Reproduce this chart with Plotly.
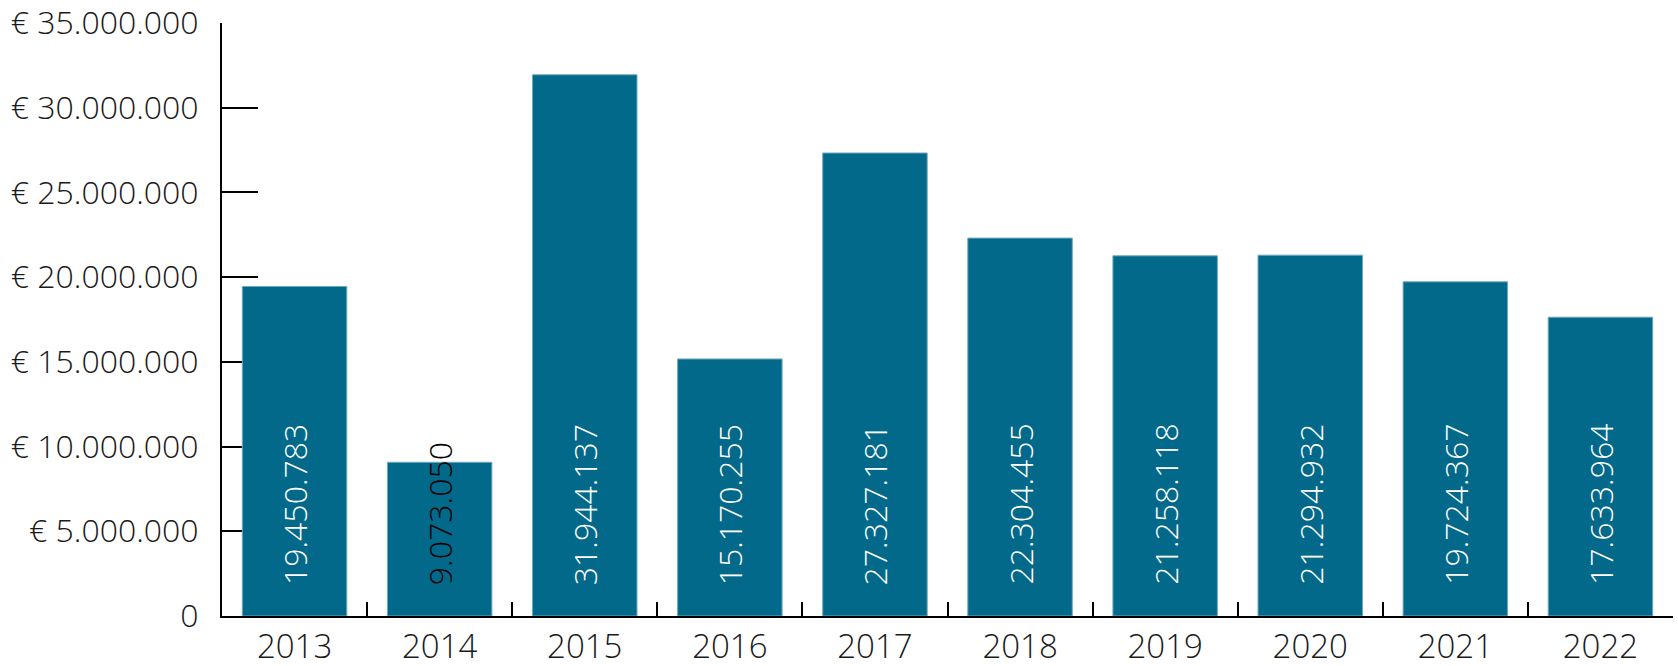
import plotly.graph_objs as go

years = ['2013', '2014', '2015', '2016', '2017', '2018', '2019', '2020', '2021', '2022']
amounts = [19450783, 9073050, 31944137, 15170255, 27327181,
           22304455, 21258118, 21294932, 19724367, 17633964]
amount_labels = ['19.450.783', '9.073.050', '31.944.137', '15.170.255', '27.327.181',
                 '22.304.455', '21.258.118', '21.294.932', '19.724.367', '17.633.964']
label_colors = ['white', 'black', 'white', 'white', 'white',
                'white', 'white', 'white', 'white', 'white']
y_tickvals = [0, 5000000, 10000000, 15000000, 20000000, 25000000, 30000000, 35000000]
y_ticktext = ['0', '€ 5.000.000', '€ 10.000.000', '€ 15.000.000', '€ 20.000.000',
              '€ 25.000.000', '€ 30.000.000', '€ 35.000.000']

FONT = 'Open Sans'

fig = go.Figure()
fig.add_trace(
    go.Bar(
        x=years,
        y=amounts,
        marker=dict(color='#03698A', line=dict(color='#6fa9bd', width=1)),
        hoverinfo='skip',
    )
)

# value labels sit near the base of each bar, rotated
# (category index used for x, a year string would be read as a number)
for i, (label, colour) in enumerate(zip(amount_labels, label_colors)):
    fig.add_annotation(
        x=i,
        y=0,
        text=label,
        textangle=-90,
        showarrow=False,
        xanchor='center',
        yanchor='bottom',
        yshift=29,
        font=dict(family=FONT, size=32, color=colour, weight=300),
    )

fig.update_layout(
    width=1678,
    height=666,
    plot_bgcolor='white',
    paper_bgcolor='white',
    showlegend=False,
    bargap=0.28,
    margin=dict(l=222, r=5, t=23, b=50),
    font=dict(family=FONT, color='#1a1a1a', weight=300),
    xaxis=dict(
        type='category',
        range=[-0.5, 9.5],
        automargin=False,
        showline=True,
        linecolor='black',
        linewidth=2,
        ticks='inside',
        tickson='boundaries',
        ticklen=14,
        tickwidth=2,
        tickcolor='black',
        tickfont=dict(family=FONT, size=33, color='#1a1a1a', weight=300),
        showgrid=False,
        zeroline=False,
        layer='below traces',
    ),
    yaxis=dict(
        range=[0, 35000000],
        automargin=False,
        tickvals=y_tickvals,
        ticktext=y_ticktext,
        showline=True,
        linecolor='black',
        linewidth=2,
        ticks='inside',
        ticklen=36,
        tickwidth=2,
        tickcolor='black',
        ticklabelstandoff=15,
        tickfont=dict(family=FONT, size=32, color='#1a1a1a', weight=300),
        showgrid=False,
        zeroline=False,
        layer='below traces',
    ),
)

# drop the browser's default 8px body margin so the figure fills the window
fig.write_html(
    "out.html",
    config={'displayModeBar': False},
    post_script="document.body.style.margin = '0';",
)
